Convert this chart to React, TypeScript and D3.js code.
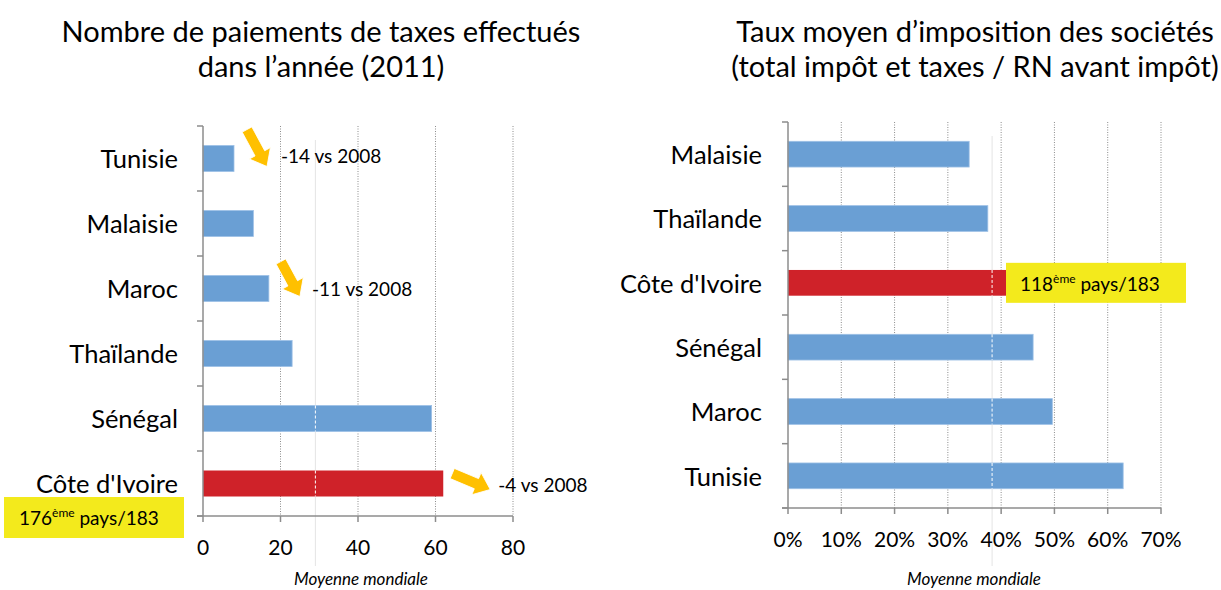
import * as d3 from 'd3';

// left panel: number of tax payments in the year (2011)
const payCountries = ['Tunisie', 'Malaisie', 'Maroc', 'Thaïlande', 'Sénégal', "Côte d'Ivoire"];
const payValues = [8, 13, 17, 23, 59, 62];
const payTicks = [0, 20, 40, 60, 80];
const payWorldAvg = 29;
const payNotes = ['-14 vs 2008', '', '-11 vs 2008', '', '', '-4 vs 2008'];

// right panel: average corporate tax rate
const rateCountries = ['Malaisie', 'Thaïlande', "Côte d'Ivoire", 'Sénégal', 'Maroc', 'Tunisie'];
const rateValues = [34.0, 37.5, 45.0, 46.0, 49.6, 62.9];
const rateTicks = [0, 10, 20, 30, 40, 50, 60, 70];
const rateWorldAvg = 38.3;

const FONT = 'Lato, "Open Sans", sans-serif';
const BLUE = '#6a9fd4';
const RED = '#cf2229';
const BOX = '#f3ea1c';
const ARROW = '#ffc000';

const arrowPath = (x1, y1, x2, y2) => {
  const len = Math.hypot(x2 - x1, y2 - y1);
  const a = (Math.atan2(y2 - y1, x2 - x1) * 180) / Math.PI;
  const h = 15;
  const d = `M0,-5.5 L${len - h},-5.5 L${len - h},-12 L${len},0 L${len - h},12 L${len - h},5.5 L0,5.5 Z`;
  return { d, transform: `translate(${x1},${y1}) rotate(${a})` };
};

const Panel = ({ left, right, top, bottom, countries, values, ticks, avg, fmt, highlight, labelX, title, titleX, avgLabelX }) => {
  const x = d3.scaleLinear().domain([ticks[0], ticks[ticks.length - 1]]).range([left, right]);
  const y = d3.scaleBand().domain(countries).range([top, bottom]).paddingInner(0.6).paddingOuter(0.3);
  const bounds = d3.range(countries.length + 1).map((i) => top + (i * (bottom - top)) / countries.length);

  return (
    <g fontFamily={FONT}>
      <text x={titleX} y={42} textAnchor="middle" fontSize={29} fill="#000">{title[0]}</text>
      <text x={titleX} y={77} textAnchor="middle" fontSize={29} fill="#000">{title[1]}</text>

      {ticks.slice(1).map((t) => (
        <line key={t} x1={x(t)} x2={x(t)} y1={top} y2={bottom} stroke="#8c8c8c" strokeDasharray="1,1.5" />
      ))}

      <line x1={x(avg)} x2={x(avg)} y1={top + 14} y2={566} stroke="#e4e4e4" />

      {countries.map((c, i) => (
        <rect key={c} x={x(0)} y={y(c)} width={x(values[i]) - x(0)} height={y.bandwidth()}
          fill={c === highlight ? RED : BLUE} stroke={c === highlight ? 'none' : '#9dc0e6'} strokeWidth={0.8} />
      ))}
      {countries.map((c, i) => values[i] > avg ? (
        <line key={c} x1={x(avg)} x2={x(avg)} y1={y(c)} y2={y(c) + y.bandwidth()} stroke="#fff" strokeDasharray="3,2" />
      ) : null)}

      <line x1={left} x2={left} y1={top} y2={bottom} stroke="#8c8c8c" strokeWidth={1.5} />
      {bounds.map((b, i) => (
        <line key={i} x1={left - 6} x2={left} y1={b} y2={b} stroke="#8c8c8c" strokeWidth={1.5} />
      ))}
      <line x1={left - 6} x2={right} y1={bottom} y2={bottom} stroke="#8c8c8c" strokeWidth={1.5} />
      {ticks.map((t) => (
        <g key={t}>
          <line x1={x(t)} x2={x(t)} y1={bottom} y2={bottom + 6} stroke="#8c8c8c" strokeWidth={1.5} />
          <text x={x(t)} y={bottom + 39} textAnchor="middle" fontSize={21} fill="#000">{fmt(t)}</text>
        </g>
      ))}

      {countries.map((c) => (
        <text key={c} x={labelX} y={y(c) + y.bandwidth() / 2 + 1} dy="0.35em" textAnchor="end" fontSize={25.5} fill="#000">{c}</text>
      ))}

      <text x={avgLabelX} y={585} textAnchor="middle" fontSize={17} fontStyle="italic" fill="#000">Moyenne mondiale</text>
    </g>
  );
};

export default function App() {
  const W = 1221;
  const H = 590;

  const xp = d3.scaleLinear().domain([0, 80]).range([203, 513]);
  const yp = d3.scaleBand().domain(payCountries).range([126, 516]);
  const yr = d3.scaleBand().domain(rateCountries).range([122, 508]);

  // arrow offsets relative to bar end / bar centre
  const arrowOffsets = [
    { tx: 13, ty: -29, hx: 33, hy: 8, lx: 47, ly: 4 },
    null,
    { tx: 12, ty: -27, hx: 31, hy: 8, lx: 43, ly: 7 },
    null,
    null,
    { tx: 9, ty: -10, hx: 47, hy: 6, lx: 55, ly: 8 },
  ];

  return (
    <svg width={W} height={H} style={{ position: 'absolute', left: 0, top: 0, background: '#fff' }}>
      <Panel left={203} right={513} top={126} bottom={516} countries={payCountries} values={payValues}
        ticks={payTicks} avg={payWorldAvg} fmt={(t) => `${t}`} highlight="Côte d'Ivoire" labelX={178}
        title={['Nombre de paiements de taxes effectués', 'dans l\u2019année (2011)']} titleX={321} avgLabelX={361} />
      <Panel left={788} right={1161} top={122} bottom={508} countries={rateCountries} values={rateValues}
        ticks={rateTicks} avg={rateWorldAvg} fmt={(t) => `${t}%`} highlight="Côte d'Ivoire" labelX={762}
        title={['Taux moyen d\u2019imposition des sociétés', '(total impôt et taxes / RN avant impôt)']} titleX={975} avgLabelX={974} />

      <g fontFamily={FONT}>
        {payCountries.map((c, i) => {
          const o = arrowOffsets[i];
          if (!o) return null;
          const bx = xp(payValues[i]);
          const cy = yp(c) + yp.bandwidth() / 2;
          const a = arrowPath(bx + o.tx, cy + o.ty, bx + o.hx, cy + o.hy);
          return (
            <g key={c}>
              <path d={a.d} transform={a.transform} fill={ARROW} stroke="#fff" strokeWidth={0.8} />
              <text x={bx + o.lx} y={cy + o.ly} fontSize={19} fill="#000">{payNotes[i]}</text>
            </g>
          );
        })}

        <rect x={4} y={497} width={180} height={41} fill={BOX} />
        <text x={19} y={525} fontSize={19} fill="#000">
          176<tspan fontSize={12} dy={-8}>ème</tspan><tspan dy={8}> pays/183</tspan>
        </text>

        <rect x={1006} y={yr("Côte d'Ivoire") + yr.bandwidth() / 2 - 20} width={180} height={40} fill={BOX} />
        <text x={1020} y={yr("Côte d'Ivoire") + yr.bandwidth() / 2 + 8} fontSize={19} fill="#000">
          118<tspan fontSize={12} dy={-8}>ème</tspan><tspan dy={8}> pays/183</tspan>
        </text>
      </g>
    </svg>
  );
}
